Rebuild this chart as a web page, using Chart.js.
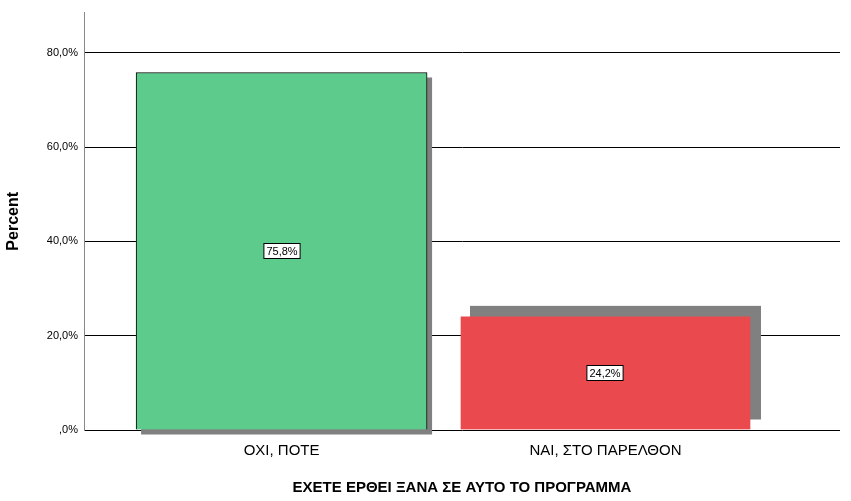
<!DOCTYPE html>
<html><head><meta charset="utf-8">
<script src="https://cdn.jsdelivr.net/npm/chart.js@4/dist/chart.umd.min.js"></script>
<style>body{margin:0;background:#fff}#w{width:851px;height:501px}</style>
</head><body><div id="w"><canvas id="c"></canvas></div>
<script>
const categories = ["ΟΧΙ, ΠΟΤΕ", "ΝΑΙ, ΣΤΟ ΠΑΡΕΛΘΟΝ"];
const percents = [75.8, 24.2];
const barColors = ["#5ccb8b", "#ea4a4d"];
const borderColors = ["#000000", "rgba(0,0,0,0)"];
const shadowOffsets = [[5, 5], [10, -10]];
const yTicks = [0, 20, 40, 60, 80];
const xTitle = "ΕΧΕΤΕ ΕΡΘΕΙ ΞΑΝΑ ΣΕ ΑΥΤΟ ΤΟ ΠΡΟΓΡΑΜΜΑ";
const yTitle = "Percent";

const fmt = v => (v === 0 ? "" : String(Math.floor(v))) + "," + (Math.round(v*10)%10) + "%";

const shadowPlugin = {
  id: 'shadow',
  beforeDatasetsDraw(chart) {
    const ctx = chart.ctx;
    chart.getDatasetMeta(0).data.forEach((el, i) => {
      const w = el.width, x0 = el.x - w/2, [dx, dy] = shadowOffsets[i];
      ctx.fillStyle = '#808080';
      ctx.fillRect(x0 + dx, el.y + dy, w, el.base - el.y);
    });
  },
  afterDatasetsDraw(chart) {
    const ctx = chart.ctx;
    ctx.font = '11px Arial, "Liberation Sans"';
    ctx.textAlign = 'center'; ctx.textBaseline = 'middle';
    chart.getDatasetMeta(0).data.forEach((el, i) => {
      const t = fmt(percents[i]);
      const tw = ctx.measureText(t).width;
      const cy = Math.round((el.y + el.base)/2), cx = Math.round(el.x);
      ctx.fillStyle = '#fff';
      ctx.fillRect(cx - tw/2 - 2.5, cy - 7.5, tw + 5, 15);
      ctx.strokeStyle = '#000'; ctx.lineWidth = 1;
      ctx.strokeRect(cx - tw/2 - 2.5, cy - 7.5, tw + 5, 15);
      ctx.fillStyle = '#000';
      ctx.fillText(t, cx, cy + 0.5);
    });
  }
};

new Chart(document.getElementById('c'), {
  type: 'bar',
  data: { datasets: [{
    data: categories.map((c, i) => ({ x: i, y: percents[i] })),
    backgroundColor: barColors, borderColor: borderColors, borderWidth: 1,
    barThickness: 291
  }]},
  options: {
    responsive: true, maintainAspectRatio: false, animation: false,
    layout: { padding: { left: 0, right: 11, top: 0, bottom: 0 } },
    plugins: { legend: { display: false }, tooltip: { enabled: false } },
    scales: {
      x: {
        type: 'linear', min: -0.61, max: 1.724, offset: false, grace: 0,
        afterBuildTicks: s => { s.ticks = categories.map((c, i) => ({ value: i })); },
        afterFit: s => { s.height = 71; },
        grid: { display: false, offset: false }, border: { display: false },
        ticks: { callback: v => categories[v], color: '#000', font: { size: 15, family: 'Arial, "Liberation Sans"' }, padding: 4, maxRotation: 0 },
        title: { display: true, text: xTitle, color: '#000', font: { size: 15, weight: 'bold', family: 'Arial, "Liberation Sans"' }, padding: { top: 10 } }
      },
      y: {
        min: 0, max: 88.5,
        afterBuildTicks: s => { s.ticks = yTicks.map(v => ({ value: v })); },
        afterFit: s => { s.width = 84; },
        grid: { color: '#000', drawTicks: false, lineWidth: 1 },
        border: { display: true, color: '#888', width: 1 },
        ticks: { callback: v => fmt(v), color: '#000', font: { size: 11, family: 'Arial, "Liberation Sans"' }, padding: 6 },
        title: { display: true, text: yTitle, color: '#000', font: { size: 16, weight: 'bold', family: 'Arial, "Liberation Sans"' }, padding: { bottom: 6 } }
      }
    }
  },
  plugins: [shadowPlugin]
});
</script></body></html>
